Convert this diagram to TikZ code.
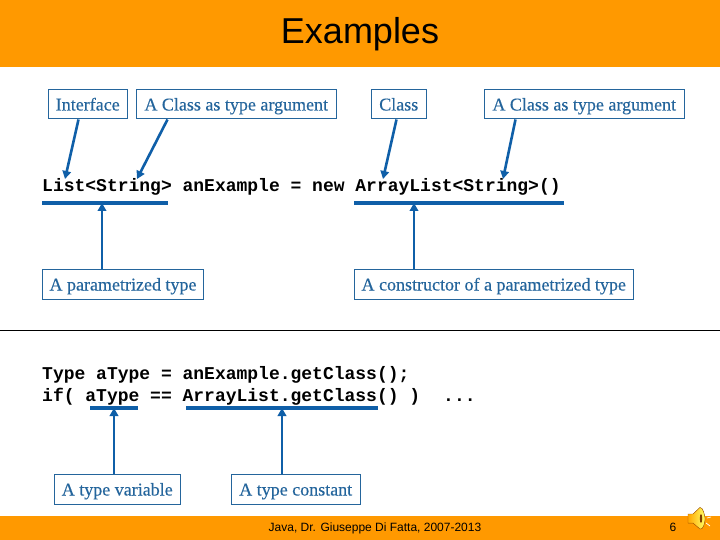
\documentclass[tikz,border=0pt]{standalone}
\usepackage{fontspec}
\setmainfont[FakeBold=0.25]{Liberation Serif}
\setsansfont{Liberation Sans}
\setmonofont{Liberation Mono}
\usetikzlibrary{arrows.meta}
\definecolor{bandorange}{HTML}{FF9900}
\definecolor{noteblue}{HTML}{24659C}
\definecolor{linkblue}{HTML}{0F5FA8}
\tikzset{
  band/.style={fill=bandorange,draw=none},
  note/.style={draw=noteblue,line width=1pt,fill=white,text=noteblue,font=\fontsize{18}{20}\selectfont,inner sep=0pt,minimum height=29.5pt,text height=12.5pt,text depth=0pt,anchor=north west},
  code/.style={anchor=base west,inner sep=0pt,font=\ttfamily\bfseries\fontsize{18}{20}\selectfont},
  link/.style={draw=linkblue,line width=2.6pt,-{Triangle[length=8pt,width=8.5pt]}},
  mark bar/.style={draw=linkblue,line width=3.4pt},
  foot/.style={font=\sffamily\fontsize{12}{14}\selectfont,inner sep=0pt,anchor=base}
}
\begin{document}
\begin{tikzpicture}[x=1pt,y=-1pt]
\useasboundingbox (0,0) rectangle (720,540);
\fill[white] (0,0) rectangle (720,540);
\fill[band] (0,0) rectangle (720,67);
\fill[band] (0,516) rectangle (720,540);
\node[font=\sffamily\fontsize{36}{40}\selectfont,inner sep=0pt,anchor=base] (title) at (360,44) {Examples};

\node[note,minimum width=78.5pt] (iface) at (48,89) {Interface};
\node[note,minimum width=199.5pt] (argone) at (136,89) {A Class as type argument};
\node[note,minimum width=54.5pt] (cls) at (371,89) {Class};
\node[note,minimum width=199.5pt] (argtwo) at (484,89) {A Class as type argument};
\node[note,minimum width=161pt] (ptype) at (42,269) {A parametrized type};
\node[note,minimum width=278.5pt] (ctor) at (354,269) {A constructor of a parametrized type};
\node[note,minimum width=125.5pt] (tvar) at (54,474) {A type variable};
\node[note,minimum width=128.5pt] (tconst) at (231,474) {A type constant};

\node[code] (lineone) at (42,192) {List<String> anExample = new ArrayList<String>()};
\node[code] (linetwo) at (42,379.5) {Type aType = anExample.getClass();};
\node[code] (linethree) at (42,401) {if( aType == ArrayList.getClass() )};
\node[code] (dots) at (443,401) {...};

\coordinate (aiface) at (65,179);
\coordinate (aargone) at (137,179);
\coordinate (acls) at (383,179);
\coordinate (aargtwo) at (503,179);
\coordinate (ubarA) at (42,203);
\coordinate (ubarB) at (168,203);
\coordinate (ubarC) at (354,203);
\coordinate (ubarD) at (564,203);
\coordinate (ubarE) at (90,408);
\coordinate (ubarF) at (138,408);
\coordinate (ubarG) at (186,408);
\coordinate (ubarH) at (378,408);
\coordinate (ruleL) at (0,330);
\coordinate (ruleR) at (720,330);

\draw[mark bar] (ubarA) -- (ubarB);
\draw[mark bar] (ubarC) -- (ubarD);
\draw[mark bar] (ubarE) -- (ubarF);
\draw[mark bar] (ubarG) -- (ubarH);
\draw[black,line width=1pt] (ruleL) -- (ruleR);

\draw[link] ([xshift=-9.25pt]iface.south) -- (aiface);
\draw[link] ([xshift=-68.75pt]argone.south) -- (aargone);
\draw[link] ([xshift=-2.25pt]cls.south) -- (acls);
\draw[link] ([xshift=-68.75pt]argtwo.south) -- (aargtwo);
\draw[link] (ptype.south west |- ptype.north) ++(60,0) -- ++(0,-66);
\draw[link] (ctor.south west |- ctor.north) ++(60,0) -- ++(0,-66);
\draw[link] (tvar.south west |- tvar.north) ++(60,0) -- ++(0,-66);
\draw[link] (tconst.south west |- tconst.north) ++(51,0) -- ++(0,-66);

\node[foot] (footer) at (375,531) {Java, Dr. Giuseppe Di Fatta, 2007-2013};
\node[foot] (pageno) at (673,531) {6};

% speaker icon
\fill[left color=orange!70!yellow,right color=yellow!60!white,draw=orange!70!black,line width=.4pt]
  (688,514) -- (693,514) -- (700,507.5) .. controls (703,507) and (705,516) .. (705,519)
  .. controls (705,523) and (703,530) .. (700,529) -- (693,523) -- (688,523) -- cycle;
\fill[orange!50!black] (701,518.5) ellipse (1.2pt and 4.5pt);
\draw[white,line width=.7pt] (706,514) -- (710,510) (707,518) -- (711,517) (706,523) -- (710,526);
\end{tikzpicture}
\end{document}
